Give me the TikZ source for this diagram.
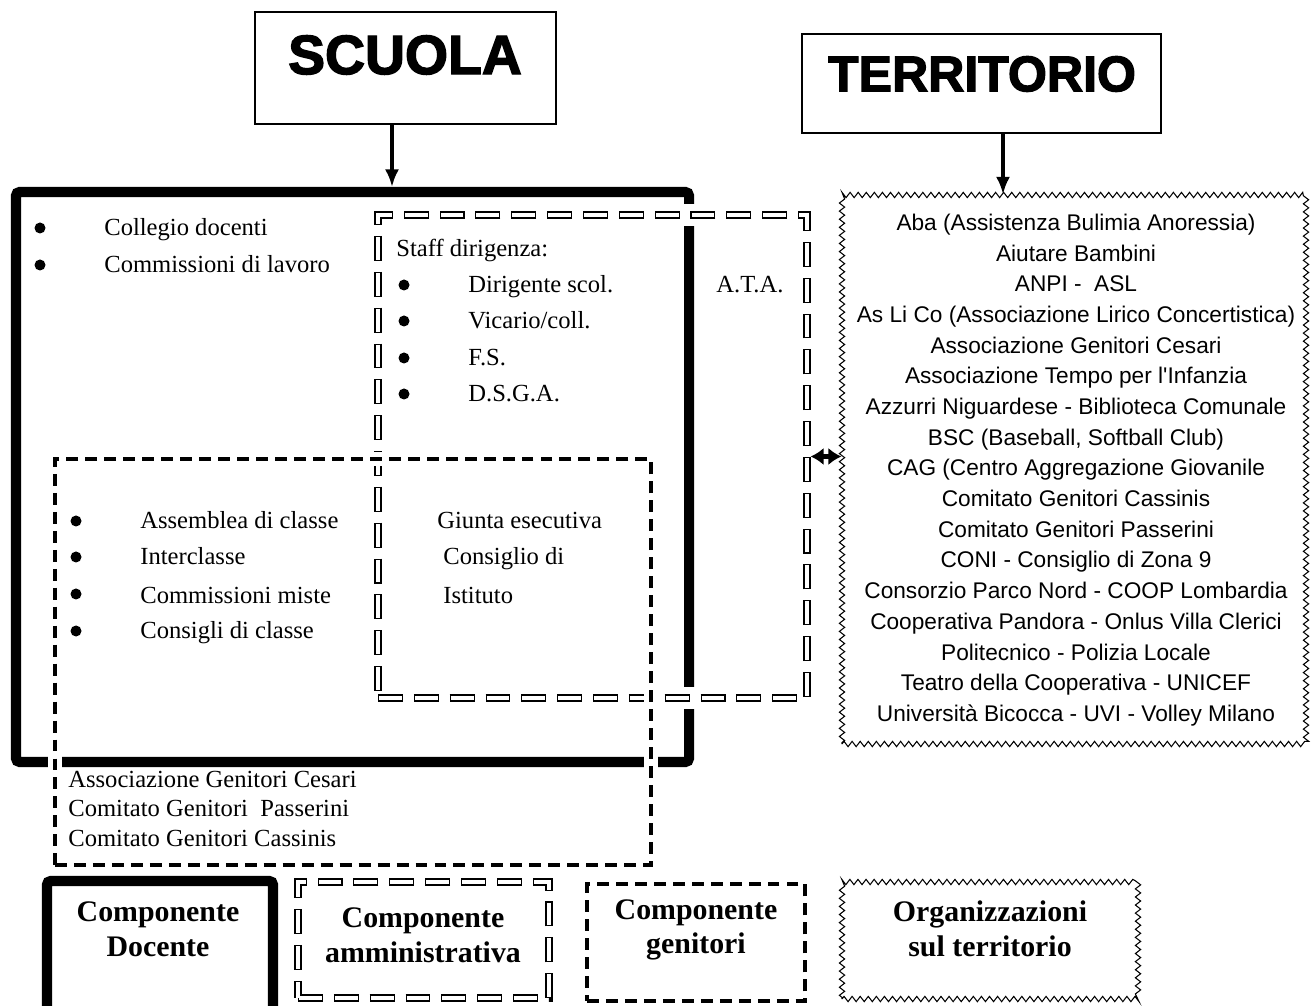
\documentclass[tikz,border=0pt]{standalone}
\usepackage{fontspec}
\setmainfont{Liberation Serif}
\newfontfamily\sansfnt{Liberation Sans}
\newfontfamily\titlefnt{Liberation Sans}[BoldFeatures = {FakeBold = 2.5}]
\usepackage{tikz}
\usetikzlibrary{fit,arrows.meta,decorations.pathmorphing}

\begin{document}
\begin{tikzpicture}[x = 0.02cm, y = -0.02cm,
  titlebox/.style = {draw, line width = 0.85pt, inner sep = 0pt},
  titletxt/.style = {inner sep = 0pt, font = \titlefnt\bfseries\fontsize{31.5}{30}\selectfont},
  docbox/.style   = {draw, line width = 5.7pt, inner sep = 0pt, rounded corners = 2pt},
  bricks/.style   = {inner sep = 0pt,
                     preaction  = {draw = white, solid, line width = 12.5pt},
                     draw, line width = 4pt, dash pattern = on 14.2pt off 6.2pt,
                     postaction = {draw = white, line width = 2.8pt,
                                   dash pattern = on 13pt off 7.4pt, dash phase = 19.8pt}},
  dashbox/.style  = {inner sep = 0pt,
                     preaction = {draw = white, solid, line width = 8.5pt},
                     draw, line width = 2.3pt, dash pattern = on 6.8pt off 4pt},
  zigbox/.style   = {inner sep = 0pt, draw, line width = 0.6pt, decorate,
                     decoration = {zigzag, segment length = 4.6pt, amplitude = 1.5pt}},
  arr/.style      = {line width = 2pt, -{Latex[length = 10pt, width = 8pt]}},
  dblarr/.style   = {line width = 3pt,
                     {Latex[length = 7.5pt, width = 10pt]}-{Latex[length = 7.5pt, width = 10pt]}},
  txt/.style      = {anchor = base west, inner sep = 0pt, font = \fontsize{14}{17}\selectfont},
  legtxt/.style   = {align = center, inner sep = 0pt, font = \bfseries\fontsize{17}{19.8}\selectfont},
  listtxt/.style  = {align = center, inner sep = 0pt, font = \sansfnt\fontsize{12.9}{17.47}\selectfont}]

\useasboundingbox (0,0) rectangle (1312,1006);
\fill[white] (0,0) rectangle (1312,1006);

\node[titlebox, fit = {(255,12) (556,124)}]  (scuola) {};
\node[titletxt] (scuolatxt) at (405,55) {SCUOLA};
\node[titlebox, fit = {(802,34) (1161,133)}] (territorio) {};
\node[titletxt, font = \titlefnt\bfseries\fontsize{28.5}{28}\selectfont] (territoriotxt) at (982,74) {TERRITORIO};

\node[docbox,  fit = {(16,192) (689,762)}]   (docente) {};
\node[bricks,  fit = {(378,215) (807,698)}]  (ata) {};
\node[dashbox, fit = {(55,459) (651,865)}]   (genitori) {};
\node[zigbox,  fit = {(842,195) (1306,744)}] (enti) {};

\coordinate (sdrop) at (392,0);
\coordinate (tdrop) at (1003,0);
\draw[arr] (scuola.south -| sdrop) -- (docente.north -| sdrop);
\draw[arr] (territorio.south -| tdrop) -- (enti.north -| tdrop);
\draw[dblarr] (ata.east) -- (ata.east -| enti.west);

\fill (40,228) circle[radius = 5.5];
\fill (40,265) circle[radius = 5.5];
\node[txt] (collegio)  at (104,236) {Collegio docenti};
\node[txt] (commlav)   at (104,273) {Commissioni di lavoro};

\node[txt] (staff)     at (396,257) {Staff dirigenza:};
\fill (404,285) circle[radius = 5.5];
\fill (404,321) circle[radius = 5.5];
\fill (404,358) circle[radius = 5.5];
\fill (404,394) circle[radius = 5.5];
\node[txt] (dirigente) at (468,293) {Dirigente scol.};
\node[txt] (vicario)   at (468,329) {Vicario/coll.};
\node[txt] (fs)        at (468,366) {F.S.};
\node[txt] (dsga)      at (468,402) {D.S.G.A.};
\node[txt] (atatxt)    at (716,293) {A.T.A.};

\fill (76,521) circle[radius = 5.5];
\fill (76,557) circle[radius = 5.5];
\fill (76,594) circle[radius = 5.5];
\fill (76,631) circle[radius = 5.5];
\node[txt] (assemblea) at (140,529) {Assemblea di classe};
\node[txt] (intercl)   at (140,565) {Interclasse};
\node[txt] (commiste)  at (140,603) {Commissioni miste};
\node[txt] (consigli)  at (140,639) {Consigli di classe};
\node[txt] (giunta)    at (437,529) {Giunta esecutiva};
\node[txt] (consist)   at (443,565) {Consiglio di};
\node[txt] (istituto)  at (443,603) {Istituto};

\node[txt] (cesari)    at (68,787) {Associazione Genitori Cesari};
\node[txt] (passerini) at (68,816) {Comitato Genitori\ \ Passerini};
\node[txt] (cassinis)  at (68,846) {Comitato Genitori Cassinis};

\node[listtxt] (elenco) at (1076,470) {Aba (Assistenza Bulimia Anoressia)\\
  Aiutare Bambini\\
  ANPI -\ \ ASL\\
  As Li Co (Associazione Lirico Concertistica)\\
  Associazione Genitori Cesari\\
  Associazione Tempo per l'Infanzia\\
  Azzurri Niguardese - Biblioteca Comunale\\
  BSC (Baseball, Softball Club)\\
  CAG (Centro Aggregazione Giovanile\\
  Comitato Genitori Cassinis\\
  Comitato Genitori Passerini\\
  CONI - Consiglio di Zona 9\\
  Consorzio Parco Nord - COOP Lombardia\\
  Cooperativa Pandora - Onlus Villa Clerici\\
  Politecnico - Polizia Locale\\
  Teatro della Cooperativa - UNICEF\\
  Università Bicocca - UVI - Volley Milano};

\node[docbox,  fit = {(47,881) (273,1014)}]  (legdoc) {};
\node[legtxt] (legdoctxt) at (158,929) {Componente\\Docente};
\node[bricks,  fit = {(298,882) (549,998)}]  (legamm) {};
\node[legtxt] (legammtxt) at (423,935) {Componente\\amministrativa};
\node[dashbox, fit = {(587,884) (805,1001)}] (leggen) {};
\node[legtxt] (leggentxt) at (696,930) {Componente\\genitori};
\node[zigbox,  fit = {(842,882) (1138,999)}] (legorg) {};
\node[legtxt] (legorgtxt) at (990,929) {Organizzazioni\\sul territorio};
\end{tikzpicture}
\end{document}
